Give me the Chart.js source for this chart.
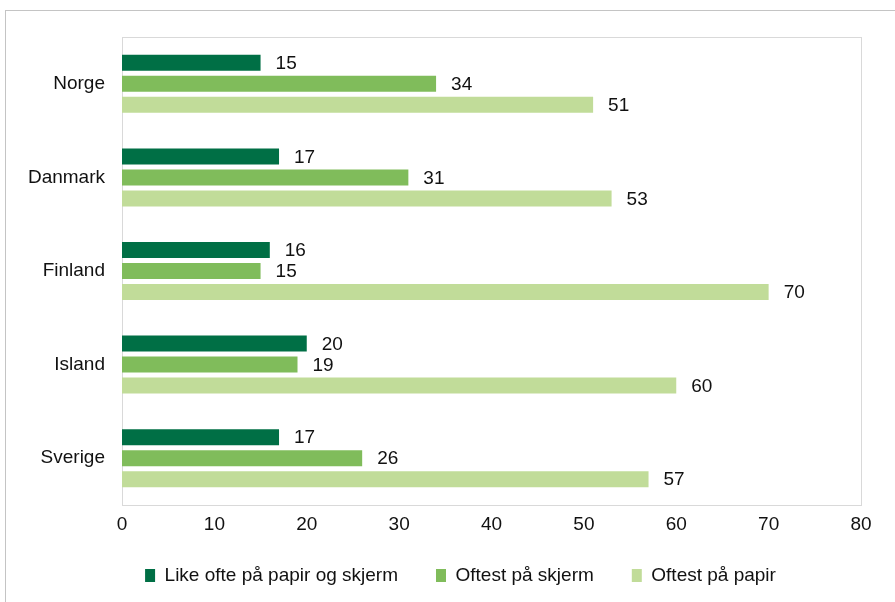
<!DOCTYPE html>
<html>
<head>
<meta charset="utf-8">
<script src="https://cdn.jsdelivr.net/npm/chart.js@4/dist/chart.umd.min.js"></script>
<style>
  html, body { margin: 0; padding: 0; background: #fff; }
  #wrap { position: relative; width: 895px; height: 602px; overflow: hidden; }
  #frame { position: absolute; left: 5px; top: 10px; width: 1000px; height: 1000px;
           border-left: 1px solid #c4c4c4; border-top: 1px solid #c4c4c4; }
  canvas { position: absolute; left: 0; top: 0; }
</style>
</head>
<body>
<div id="wrap">
  <div id="frame"></div>
  <canvas id="chart" width="895" height="602"></canvas>
</div>
<script>
const categories = ["Norge", "Danmark", "Finland", "Island", "Sverige"];
const likeOfte = [15, 17, 16, 20, 17];
const oftestSkjerm = [34, 31, 15, 19, 26];
const oftestPapir = [51, 53, 70, 60, 57];
const xTicks = [0, 10, 20, 30, 40, 50, 60, 70, 80];

const FONT = { family: "'Liberation Sans', Arial, sans-serif", size: 19 };
const TEXT = "#111";

// grey box round the plot area
const plotBox = {
  id: "plotBox",
  beforeDatasetsDraw(chart) {
    const { ctx, chartArea: a } = chart;
    ctx.save();
    ctx.strokeStyle = "#d9d9d9";
    ctx.lineWidth = 1;
    ctx.strokeRect(Math.round(a.left) + 0.5, Math.round(a.top) + 0.5,
                   Math.round(a.right - a.left), Math.round(a.bottom - a.top));
    ctx.restore();
  }
};

// nudge the legend: a bit right of centre and up closer to the axis
const legendShift = {
  id: "legendShift",
  afterLayout(chart) {
    const lg = chart.legend;
    lg.left += 30;
    lg.right += 30;
    lg.top -= 22;
    lg.bottom -= 22;
  }
};

// value printed to the right of each bar
const valueLabels = {
  id: "valueLabels",
  afterDatasetsDraw(chart) {
    const { ctx } = chart;
    ctx.save();
    ctx.font = FONT.size + "px " + FONT.family;
    ctx.fillStyle = TEXT;
    ctx.textAlign = "left";
    ctx.textBaseline = "middle";
    chart.data.datasets.forEach((ds, i) => {
      chart.getDatasetMeta(i).data.forEach((bar, j) => {
        ctx.fillText(ds.data[j], bar.x + 15, bar.y + 1);
      });
    });
    ctx.restore();
  }
};

new Chart(document.getElementById("chart"), {
  type: "bar",
  data: {
    labels: categories,
    datasets: [
      { label: "Like ofte på papir og skjerm", data: likeOfte, backgroundColor: "#006f45" },
      { label: "Oftest på skjerm", data: oftestSkjerm, backgroundColor: "#80bc5b" },
      { label: "Oftest på papir", data: oftestPapir, backgroundColor: "#c1dc99" }
    ]
  },
  options: {
    indexAxis: "y",
    responsive: false,
    animation: false,
    categoryPercentage: 0.673,
    barPercentage: 0.762,
    layout: { padding: { top: 37, right: 34, left: 0, bottom: -15 } },
    scales: {
      x: {
        min: 0,
        max: 80,
        afterBuildTicks: scale => { scale.ticks = xTicks.map(v => ({ value: v })); },
        afterFit: scale => { scale.height = 45; },
        grid: { display: false, drawTicks: false },
        border: { display: false },
        ticks: { font: FONT, color: TEXT, padding: 8, maxRotation: 0 }
      },
      y: {
        afterFit: scale => { scale.width = 122; },
        grid: { display: false, drawTicks: false },
        border: { display: false },
        ticks: { font: FONT, color: TEXT, padding: 17 }
      }
    },
    plugins: {
      legend: {
        position: "bottom",
        labels: { font: FONT, color: TEXT, boxWidth: 10, boxHeight: 13, padding: 38 }
      },
      tooltip: { enabled: false }
    }
  },
  plugins: [plotBox, legendShift, valueLabels]
});
</script>
</body>
</html>
